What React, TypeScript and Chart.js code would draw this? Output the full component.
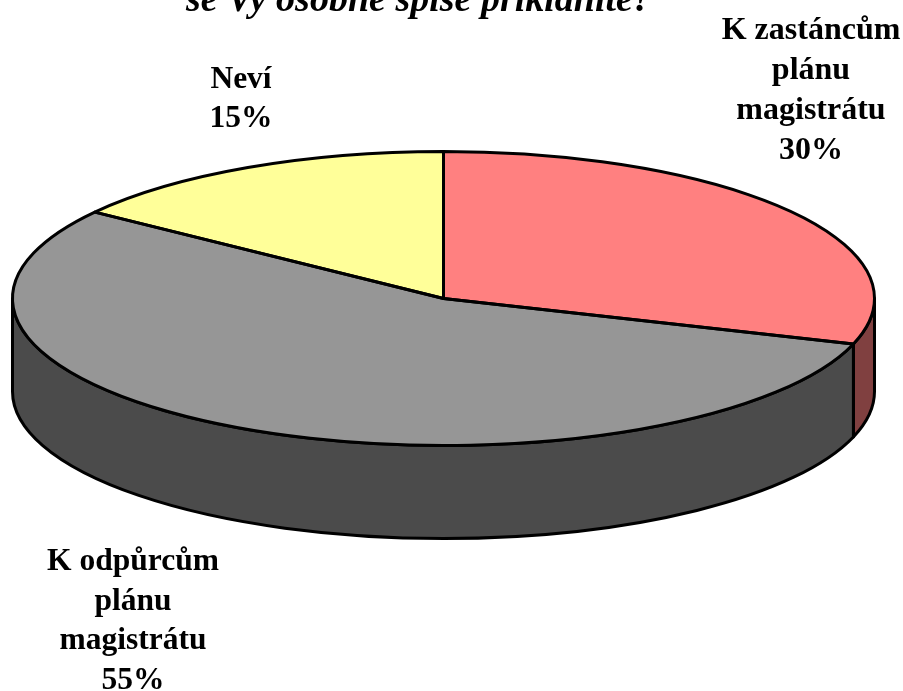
import React, { useEffect, useRef } from "react";
import { Chart, registerables } from "chart.js";

Chart.register(...registerables);

const categories = ["K zastáncům plánu magistrátu", "K odpůrcům plánu magistrátu", "Neví"];
const labelLines = [["K zastáncům", "plánu", "magistrátu"], ["K odpůrcům", "plánu", "magistrátu"], ["Neví"]];
const values = [30, 55, 15];
const topColors = ["#FF8080", "#969696", "#FFFF99"];
const wallColors = ["#804040", "#4B4B4B", "#80804D"];
const titleLine = "se Vy osobně spíše přikláníte?";

const FONT = '"Liberation Serif", "Times New Roman", serif';
const CENTER = { x: 443.5, y: 298.5 };
const RX = 431;
const RY = 147;
const DEPTH = 93;
const LINE = 3;
const LABEL_ANCHORS = [
  { x: 811, y: 39, step: 40, size: 32 },
  { x: 133, y: 570, step: 39.5, size: 31.5 },
  { x: 241, y: 88, step: 39, size: 31.5 },
];

function project(ctx: CanvasRenderingContext2D, el: any, dy = 0) {
  ctx.translate(CENTER.x, CENTER.y + dy);
  ctx.scale(1, RY / RX);
  ctx.translate(-el.x, -el.y);
}

const piePlugin = {
  id: "pie3d",
  beforeDatasetsDraw(chart: any) {
    const ctx: CanvasRenderingContext2D = chart.ctx;
    const arcs = chart.getDatasetMeta(0).data;
    arcs.forEach((el: any, i: number) => {
      const a = Math.max(el.startAngle, 0);
      const b = Math.min(el.endAngle, Math.PI);
      if (b <= a) return;
      ctx.save();
      ctx.beginPath();
      ctx.save();
      project(ctx, el);
      ctx.arc(el.x, el.y, el.outerRadius, a, b);
      ctx.restore();
      ctx.save();
      project(ctx, el, DEPTH);
      ctx.arc(el.x, el.y, el.outerRadius, b, a, true);
      ctx.restore();
      ctx.closePath();
      ctx.fillStyle = wallColors[i];
      ctx.fill();
      ctx.strokeStyle = "#000";
      ctx.lineWidth = LINE;
      ctx.lineJoin = "round";
      ctx.stroke();
      ctx.restore();
    });
    ctx.save();
    project(ctx, arcs[0]);
  },
  afterDatasetsDraw(chart: any) {
    const ctx: CanvasRenderingContext2D = chart.ctx;
    ctx.restore();
    const arcs = chart.getDatasetMeta(0).data;
    arcs.forEach((el: any) => {
      ctx.save();
      ctx.beginPath();
      ctx.save();
      project(ctx, el);
      ctx.moveTo(el.x, el.y);
      ctx.arc(el.x, el.y, el.outerRadius, el.startAngle, el.endAngle);
      ctx.closePath();
      ctx.restore();
      ctx.strokeStyle = "#000";
      ctx.lineWidth = LINE;
      ctx.lineJoin = "round";
      ctx.stroke();
      ctx.restore();
    });

    ctx.save();
    ctx.fillStyle = "#000";
    ctx.textAlign = "center";
    ctx.textBaseline = "alphabetic";
    ctx.font = `italic bold 38px ${FONT}`;
    ctx.fillText(titleLine, 419, 11);
    labelLines.forEach((lines, i) => {
      const anchor = LABEL_ANCHORS[i];
      ctx.font = `bold ${anchor.size}px ${FONT}`;
      [...lines, `${values[i]}%`].forEach((text, j) => {
        ctx.fillText(text, anchor.x, anchor.y + j * anchor.step);
      });
    });
    ctx.restore();
  },
};

export default function App() {
  const ref = useRef<HTMLCanvasElement>(null);
  useEffect(() => {
    const chart = new Chart(ref.current!, {
      type: "pie",
      data: {
        labels: categories,
        datasets: [
          {
            data: values,
            backgroundColor: topColors,
            borderWidth: 0,
            radius: RX,
            clip: false,
          } as any,
        ],
      },
      options: {
        responsive: false,
        animation: false,
        layout: { padding: 0 },
        plugins: { legend: { display: false }, tooltip: { enabled: false }, title: { display: false } },
      },
      plugins: [piePlugin],
    });
    return () => chart.destroy();
  }, []);
  return (
    <div style={{ position: "absolute", left: 0, top: 0, width: 903, height: 691, overflow: "hidden", background: "#fff" }}>
      <canvas ref={ref} width={903} height={691} style={{ display: "block" }} />
    </div>
  );
}
